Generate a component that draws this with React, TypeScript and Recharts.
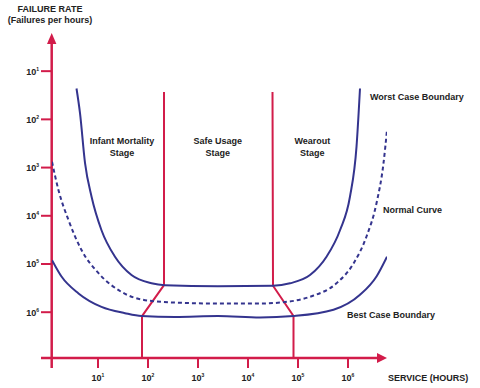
import React from 'react';
import { ComposedChart, Line, XAxis, YAxis } from 'recharts';

// x = log10(service hours), y = failure rate exponent (drawn downward)
const xTicks = [1, 2, 3, 4, 5, 6];
const yTicks = [1, 2, 3, 4, 5, 6];

const worstCase = [
  { x: 0.57, y: 1.36 }, { x: 0.64, y: 1.87 }, { x: 0.74, y: 2.9 }, { x: 0.87, y: 3.6 },
  { x: 1.07, y: 4.3 }, { x: 1.34, y: 4.85 }, { x: 1.67, y: 5.23 }, { x: 2.07, y: 5.4 },
  { x: 2.34, y: 5.44 }, { x: 3.4, y: 5.46 }, { x: 4.5, y: 5.45 }, { x: 4.84, y: 5.4 },
  { x: 5.24, y: 5.23 }, { x: 5.57, y: 4.85 }, { x: 5.84, y: 4.3 }, { x: 6.04, y: 3.6 },
  { x: 6.17, y: 2.57 }, { x: 6.24, y: 1.36 },
];

const normalCurve = [
  { x: 0.08, y: 2.88 }, { x: 0.21, y: 3.47 }, { x: 0.41, y: 4.09 }, { x: 0.67, y: 4.71 },
  { x: 1.01, y: 5.19 }, { x: 1.47, y: 5.58 }, { x: 1.94, y: 5.75 }, { x: 2.54, y: 5.8 },
  { x: 3.4, y: 5.82 }, { x: 4.24, y: 5.82 }, { x: 4.64, y: 5.8 }, { x: 5.24, y: 5.68 },
  { x: 5.77, y: 5.4 }, { x: 6.11, y: 4.99 }, { x: 6.37, y: 4.43 }, { x: 6.57, y: 3.74 },
  { x: 6.71, y: 2.91 }, { x: 6.78, y: 2.22 },
];

const bestCase = [
  { x: 0.08, y: 4.92 }, { x: 0.27, y: 5.26 }, { x: 0.61, y: 5.61 }, { x: 1.07, y: 5.89 },
  { x: 1.54, y: 6.02 }, { x: 1.87, y: 6.08 }, { x: 2.54, y: 6.1 }, { x: 3.4, y: 6.08 },
  { x: 4.24, y: 6.11 }, { x: 4.91, y: 6.08 }, { x: 5.71, y: 5.95 }, { x: 6.24, y: 5.64 },
  { x: 6.57, y: 5.26 }, { x: 6.78, y: 4.85 },
];

// stage boundaries
const safeStart = [
  { x: 2.32, y: 1.43 }, { x: 2.32, y: 5.44 }, { x: 1.88, y: 6.08 }, { x: 1.88, y: 6.95 },
];
const safeEnd = [
  { x: 4.49, y: 1.43 }, { x: 4.5, y: 5.45 }, { x: 4.91, y: 6.08 }, { x: 4.91, y: 6.95 },
];

const RED = '#d21c4a';
const NAVY = '#34348e';
const TEXT = '#222';
const FONT = '"Liberation Sans", Arial, sans-serif';

const YTick = (props: any) => {
  const { x, y, payload } = props;
  return (
    <text x={x} y={y + 3.5} textAnchor="end" fontSize={9} fontWeight="bold" fill={TEXT} fontFamily={FONT}>
      10<tspan fontSize={5} dy={-4}>{payload.value}</tspan>
    </text>
  );
};

const XTick = (props: any) => {
  const { x, y, payload } = props;
  return (
    <text x={x} y={y + 11} textAnchor="middle" fontSize={9} fontWeight="bold" fill={TEXT} fontFamily={FONT}>
      10<tspan fontSize={5} dy={-4}>{payload.value}</tspan>
    </text>
  );
};

const Lbl = ({ x, y, anchor = 'start', children }: any) => (
  <text x={x} y={y} textAnchor={anchor} fontSize={9} fontWeight="bold" fill={TEXT} fontFamily={FONT}>
    {children}
  </text>
);

export default function App() {
  return (
    <div style={{ position: 'absolute', left: 0, top: 0, width: 480, height: 388, background: '#fff' }}>
      <ComposedChart width={480} height={388} margin={{ top: 35, right: 93, bottom: 0, left: 0 }}>
        <XAxis
          type="number"
          dataKey="x"
          domain={[0.08, 6.78]}
          ticks={xTicks}
          allowDataOverflow
          axisLine={false}
          tickLine={{ stroke: RED, strokeWidth: 2 }}
          tickSize={10}
          height={30}
          tick={<XTick />}
        />
        <YAxis
          type="number"
          dataKey="y"
          domain={[0.25, 6.95]}
          reversed
          ticks={yTicks}
          allowDataOverflow
          axisLine={false}
          tickLine={{ stroke: RED, strokeWidth: 2 }}
          tickSize={11}
          width={52}
          tick={<YTick />}
        />

        {/* axes with arrows */}
        <line x1={51.7} y1={43} x2={51.7} y2={368} stroke={RED} strokeWidth={2.5} />
        <polygon points="51.7,33 47,44 56.4,44" fill={RED} />
        <line x1={41} y1={358} x2={379} y2={358} stroke={RED} strokeWidth={2.5} />
        <polygon points="387,358 377,353 377,363" fill={RED} />

        <Line data={safeStart} dataKey="y" type="linear" stroke={RED} strokeWidth={2} dot={false} isAnimationActive={false} />
        <Line data={safeEnd} dataKey="y" type="linear" stroke={RED} strokeWidth={2} dot={false} isAnimationActive={false} />
        <Line data={worstCase} dataKey="y" type="monotone" stroke={NAVY} strokeWidth={2} dot={false} isAnimationActive={false} />
        <Line data={normalCurve} dataKey="y" type="monotone" stroke={NAVY} strokeWidth={2} strokeDasharray="4 3" dot={false} isAnimationActive={false} />
        <Line data={bestCase} dataKey="y" type="monotone" stroke={NAVY} strokeWidth={2} dot={false} isAnimationActive={false} />

        <Lbl x={50} y={11.5} anchor="middle">FAILURE RATE</Lbl>
        <Lbl x={50} y={23} anchor="middle">(Failures per hours)</Lbl>
        <Lbl x={122} y={144} anchor="middle">Infant Mortality</Lbl>
        <Lbl x={122} y={155.5} anchor="middle">Stage</Lbl>
        <Lbl x={217.7} y={144} anchor="middle">Safe Usage</Lbl>
        <Lbl x={217.7} y={155.5} anchor="middle">Stage</Lbl>
        <Lbl x={312.3} y={144} anchor="middle">Wearout</Lbl>
        <Lbl x={312.3} y={155.5} anchor="middle">Stage</Lbl>
        <Lbl x={370} y={100}>Worst Case Boundary</Lbl>
        <Lbl x={383} y={213}>Normal Curve</Lbl>
        <Lbl x={347} y={318}>Best Case Boundary</Lbl>
        <Lbl x={388} y={381}>SERVICE (HOURS)</Lbl>
      </ComposedChart>
    </div>
  );
}
